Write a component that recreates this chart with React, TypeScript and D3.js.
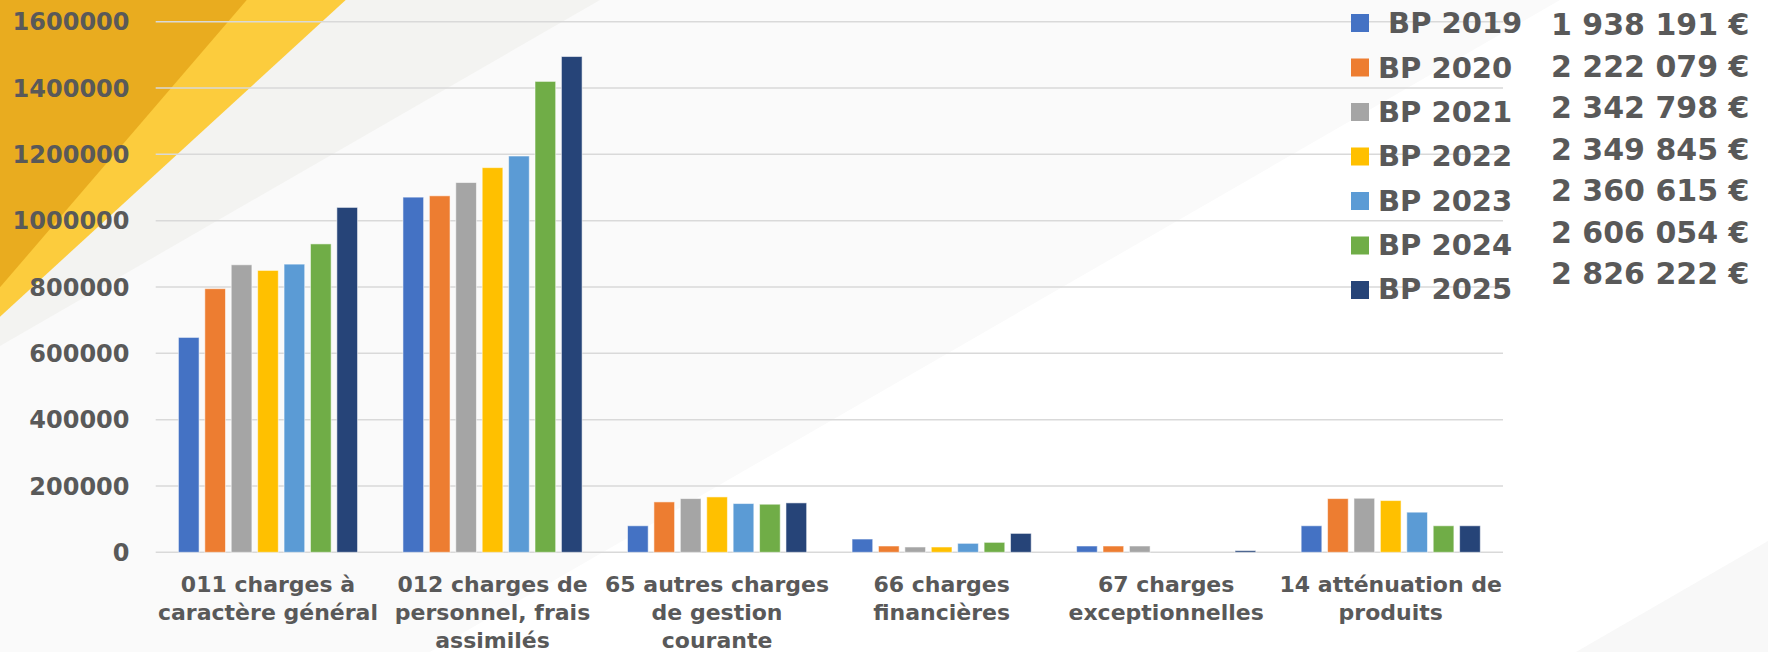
import React from "react";
import * as d3 from "d3";

// Budget chapters (x categories); "\n" marks the line breaks of each label
const categories = [
  "011 charges à\ncaractère général",
  "012 charges de\npersonnel, frais\nassimilés",
  "65 autres charges\nde gestion\ncourante",
  "66 charges\nfinancières",
  "67 charges\nexceptionnelles",
  "14 atténuation de\nproduits",
];

// Series names (the leading space of the first one is part of its label)
const seriesNames = [" BP 2019", "BP 2020", "BP 2021", "BP 2022", "BP 2023", "BP 2024", "BP 2025"];

// Amounts per chapter, in euros
const bp2019 = [648000, 1071000, 80000, 40000, 19000, 80000];
const bp2020 = [795000, 1075000, 152000, 19000, 19000, 162000];
const bp2021 = [867000, 1115000, 162000, 16000, 19000, 163000];
const bp2022 = [850000, 1160000, 167000, 16000, 0, 156000];
const bp2023 = [869000, 1195000, 147000, 27000, 0, 121000];
const bp2024 = [930000, 1420000, 145000, 30000, 0, 80000];
const bp2025 = [1040000, 1495000, 149000, 57000, 5000, 80000];
const seriesValues = [bp2019, bp2020, bp2021, bp2022, bp2023, bp2024, bp2025];

// Yearly totals shown next to the legend
const totals = [
  "1 938 191 €",
  "2 222 079 €",
  "2 342 798 €",
  "2 349 845 €",
  "2 360 615 €",
  "2 606 054 €",
  "2 826 222 €",
];

const yTicks = [0, 200000, 400000, 600000, 800000, 1000000, 1200000, 1400000, 1600000];

const colors = ["#4472C4", "#ED7D31", "#A5A5A5", "#FFC000", "#5B9BD5", "#70AD47", "#264478"];

const W = 1768;
const H = 652;
const plotLeft = 155.7;
const plotRight = 1503;
const plotTop = 21.7;
const plotBottom = 552.3;
const textColor = "#595959";
const font = "'DejaVu Sans', 'Open Sans', sans-serif";

export default function App() {
  const x0 = d3.scaleBand<string>().domain(categories).range([plotLeft, plotRight]).paddingInner(0).paddingOuter(0);
  const groupPad = 22.7;
  const x1 = d3
    .scaleBand<string>()
    .domain(seriesNames)
    .range([groupPad, x0.bandwidth() - groupPad])
    .paddingInner(0.217)
    .paddingOuter(0);
  const y = d3.scaleLinear().domain([0, 1600000]).range([plotBottom, plotTop]);

  return (
    <div style={{ position: "absolute", left: 0, top: 0 }}>
      <svg width={W} height={H} viewBox={`0 0 ${W} ${H}`} style={{ display: "block" }}>
        {/* backdrop with diagonal bands */}
        <rect x={0} y={0} width={W} height={H} fill="#FFFFFF" />
        <polygon points="0,0 1560,0 0,900" fill="#FAFAFA" />
        <polygon points="1576,652 1768,541 1768,652" fill="#F8F8F8" />
        <polygon points="0,0 600,0 0,346" fill="#F3F3F1" />
        <polygon points="0,0 345.7,0 0,316.7" fill="#FCCC3D" />
        <polygon points="0,0 246.7,0 0,287.3" fill="#E9AC1F" />

        {/* horizontal gridlines */}
        {yTicks.map((t) => (
          <line
            key={`g${t}`}
            x1={plotLeft}
            x2={plotRight}
            y1={y(t)}
            y2={y(t)}
            stroke="#D9D9D9"
            strokeWidth={1.5}
          />
        ))}

        {/* y tick labels */}
        {yTicks.map((t) => (
          <text
            key={`t${t}`}
            x={129.5}
            y={y(t)}
            dy="0.36em"
            textAnchor="end"
            fontFamily={font}
            fontWeight="bold"
            fontSize={24}
            fill={textColor}
          >
            {t}
          </text>
        ))}

        {/* clustered bars */}
        {categories.map((cat, ci) => (
          <g key={cat} transform={`translate(${x0(cat)},0)`}>
            {seriesNames.map((name, si) => {
              const v = seriesValues[si][ci];
              if (v <= 0) return null;
              return (
                <rect
                  key={name}
                  x={x1(name)}
                  y={y(v)}
                  width={x1.bandwidth()}
                  height={y(0) - y(v)}
                  fill={colors[si]}
                  stroke="#FFFFFF"
                  strokeOpacity={0.55}
                  strokeWidth={1}
                />
              );
            })}
          </g>
        ))}

        {/* category labels */}
        {categories.map((cat) => {
          const cx = (x0(cat) as number) + x0.bandwidth() / 2;
          return (
            <text
              key={`c${cat}`}
              x={cx}
              textAnchor="middle"
              fontFamily={font}
              fontWeight="bold"
              fontSize={22}
              fill={textColor}
            >
              {cat.split("\n").map((line, li) => (
                <tspan key={li} x={cx} y={591.7 + li * 28.3}>
                  {line}
                </tspan>
              ))}
            </text>
          );
        })}

        {/* legend */}
        {seriesNames.map((name, i) => (
          <g key={`l${name}`}>
            <rect x={1351} y={14 + i * 44.5} width={18} height={18} fill={colors[i]} />
            <text
              x={1378}
              y={33.3 + i * 44.3}
              fontFamily={font}
              fontWeight="bold"
              fontSize={29}
              fill={textColor}
              style={{ whiteSpace: "pre" }}
            >
              {name}
            </text>
          </g>
        ))}

        {/* yearly totals */}
        {totals.map((t, i) => (
          <text
            key={`v${i}`}
            x={1551}
            y={35 + i * 41.5}
            fontFamily={font}
            fontWeight="bold"
            fontSize={30}
            fill={textColor}
            style={{ whiteSpace: "pre" }}
          >
            {t}
          </text>
        ))}
      </svg>
    </div>
  );
}
